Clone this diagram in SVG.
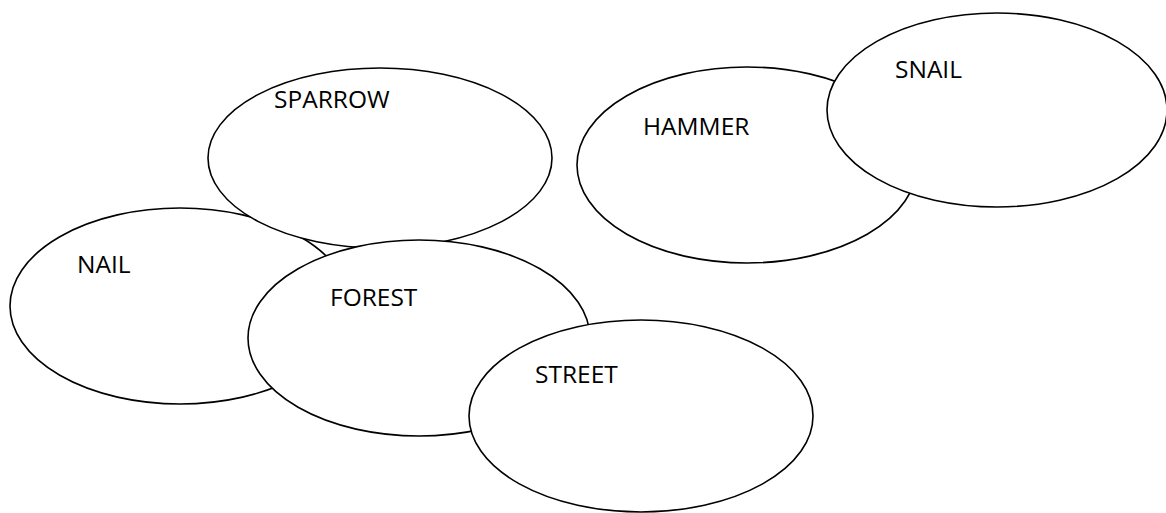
<svg xmlns="http://www.w3.org/2000/svg" width="1166" height="513" viewBox="0 0 1166 513">
<style>
.n ellipse{fill:#fff;stroke:#000;stroke-width:1.6}
.n text{font-family:"Open Sans","Liberation Sans",sans-serif;font-size:24.5px;fill:#000}
</style>
<rect width="1166" height="513" fill="#fff"/>
<g id="connectors"/>
<g id="nail" class="n"><ellipse cx="180" cy="306" rx="170" ry="98"/><text x="77" y="273">NAIL</text></g>
<g id="sparrow" class="n"><ellipse cx="380" cy="158" rx="172" ry="90"/><text x="274" y="108">SPARROW</text></g>
<g id="forest" class="n"><ellipse cx="419" cy="338" rx="171" ry="98"/><text x="330" y="306">FOREST</text></g>
<g id="street" class="n"><ellipse cx="641" cy="416" rx="172" ry="96"/><text x="535" y="383">STREET</text></g>
<g id="hammer" class="n"><ellipse cx="747" cy="165" rx="170" ry="98"/><text x="643" y="135">HAMMER</text></g>
<g id="snail" class="n"><ellipse cx="997" cy="110" rx="170" ry="97"/><text x="895" y="78">SNAIL</text></g>
</svg>
